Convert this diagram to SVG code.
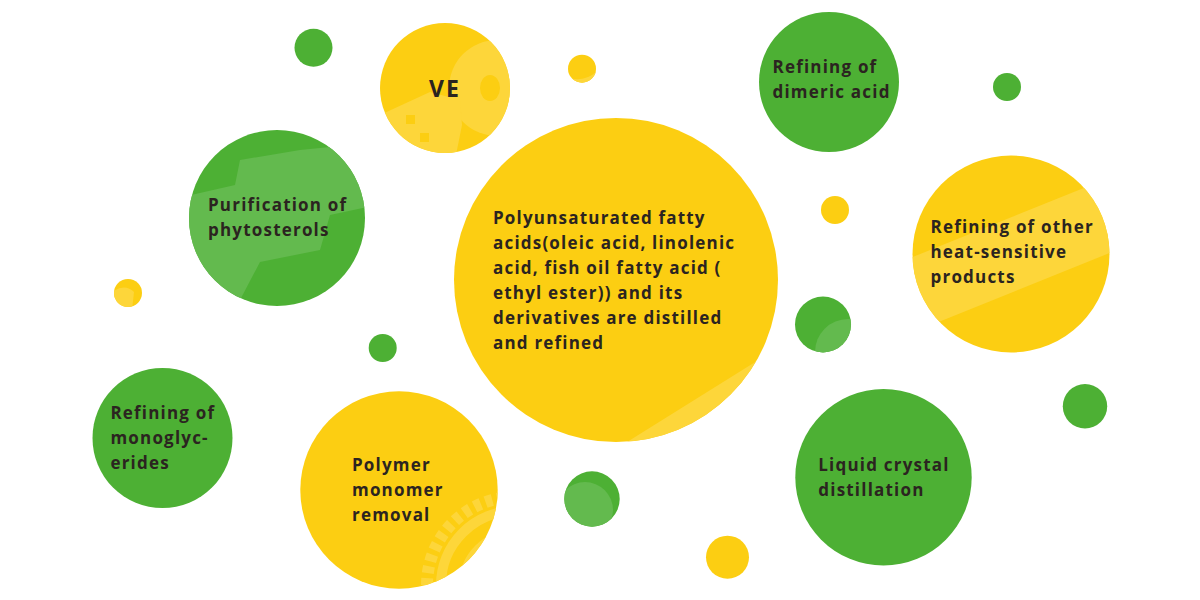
<svg xmlns="http://www.w3.org/2000/svg" width="1200" height="600" viewBox="0 0 1200 600">
<style>
.g{fill:#4DB034}
.y{fill:#FCCE12}
.gl{fill:#63BA4E}
.yl{fill:#FDD63A}
.t{font-family:"Open Sans","Liberation Sans",sans-serif;font-weight:700;font-size:17px;fill:#2B2420;letter-spacing:1.2px}
.ve{font-family:"Open Sans","Liberation Sans",sans-serif;font-weight:700;font-size:23px;fill:#2B2420;letter-spacing:2px}
</style>
<defs>
<clipPath id="cVE"><circle cx="445" cy="88" r="65"/></clipPath>
<clipPath id="cPhy"><circle cx="277" cy="218" r="88"/></clipPath>
<clipPath id="cBig"><circle cx="616" cy="280" r="162"/></clipPath>
<clipPath id="cHeat"><circle cx="1011" cy="254" r="98.5"/></clipPath>
<clipPath id="cPoly"><circle cx="399" cy="490" r="98.7"/></clipPath>
<clipPath id="cG1"><circle cx="823" cy="324.5" r="28"/></clipPath>
<clipPath id="cG2"><circle cx="592" cy="499" r="27.7"/></clipPath>
<clipPath id="cY1"><circle cx="128" cy="293" r="14"/></clipPath>
<clipPath id="cY2"><circle cx="582" cy="68.7" r="14"/></clipPath>
</defs>

<g id="dots">
<circle class="g" cx="313.5" cy="47.8" r="19"/>
<circle class="y" cx="582" cy="68.7" r="14"/>
<path class="yl" d="M568,78 Q585,82 596,72 L596,90 L568,90 Z" clip-path="url(#cY2)"/>
<circle class="g" cx="1007" cy="87" r="14"/>
<circle class="y" cx="835" cy="210" r="14"/>
<circle class="y" cx="128" cy="293" r="14"/>
<path class="yl" d="M112,292 Q125,283 134,292 L132,310 L112,310 Z" clip-path="url(#cY1)"/>
<circle class="g" cx="382.7" cy="348" r="14"/>
<circle class="g" cx="823" cy="324.5" r="28"/>
<circle class="gl" cx="848" cy="352" r="33" clip-path="url(#cG1)"/>
<circle class="g" cx="592" cy="499" r="27.7"/>
<circle class="gl" cx="585" cy="510" r="28" clip-path="url(#cG2)"/>
<circle class="g" cx="1085" cy="406.3" r="22.2"/>
<circle class="y" cx="727.5" cy="557.2" r="21.5"/>
</g>

<g id="node-ve">
<circle class="y" cx="445" cy="88" r="65"/>
<g clip-path="url(#cVE)">
<circle class="yl" cx="497" cy="88" r="48"/>
<ellipse class="y" cx="490" cy="88" rx="10" ry="13"/>
<path class="yl" d="M380,115 L430,92 L460,100 L462,125 L455,160 L380,160 Z"/>
<rect class="y" x="406" y="115" width="9" height="9"/>
<rect class="y" x="420" y="133" width="9" height="9"/>
</g>
<text class="ve" x="429" y="96.5">VE</text>
</g>

<g id="node-phytosterols">
<circle class="g" cx="277" cy="218" r="88"/>
<g clip-path="url(#cPhy)">
<path class="gl" d="M170,200 L235,185 L240,160 L300,150 L400,140 L400,200 L330,215 L320,250 L260,262 L240,300 L170,310 Z"/>
</g>
<text class="t"><tspan x="208" y="210.5">Purification of</tspan><tspan x="208" y="236">phytosterols</tspan></text>
</g>

<g id="node-fatty-acids">
<circle class="y" cx="616" cy="280" r="162"/>
<g clip-path="url(#cBig)">
<rect class="yl" x="600" y="400" width="220" height="40" transform="rotate(-32 700 420)"/>
</g>
<text class="t"><tspan x="493" y="224">Polyunsaturated fatty</tspan><tspan x="493" y="249">acids(oleic acid, linolenic</tspan><tspan x="493" y="274">acid, fish oil fatty acid (</tspan><tspan x="493" y="299">ethyl ester)) and its</tspan><tspan x="493" y="324">derivatives are distilled</tspan><tspan x="493" y="349">and refined</tspan></text>
</g>

<g id="node-dimeric">
<circle class="g" cx="829" cy="82" r="70"/>
<text class="t"><tspan x="772.5" y="73.3">Refining of</tspan><tspan x="772.5" y="98.3">dimeric acid</tspan></text>
</g>

<g id="node-heat">
<circle class="y" cx="1011" cy="254" r="98.5"/>
<g clip-path="url(#cHeat)">
<rect class="yl" x="905" y="220" width="215" height="70" transform="rotate(-22 1011 254)"/>
</g>
<text class="t"><tspan x="930.5" y="232.7">Refining of other</tspan><tspan x="930.5" y="258.3">heat-sensitive</tspan><tspan x="930.5" y="283.3">products</tspan></text>
</g>

<g id="node-monoglycerides">
<circle class="g" cx="162.5" cy="438" r="70"/>
<text class="t"><tspan x="110.4" y="419">Refining of</tspan><tspan x="110.4" y="444">monoglyc-</tspan><tspan x="110.4" y="469">erides</tspan></text>
</g>

<g id="node-polymer">
<circle class="y" cx="399" cy="490" r="98.7"/>
<g clip-path="url(#cPoly)">
<circle cx="515" cy="585" r="88" fill="none" stroke="#FDD63A" stroke-width="12" stroke-dasharray="7 5"/>
<circle cx="515" cy="585" r="74" fill="none" stroke="#FDD63A" stroke-width="10"/>
<circle cx="515" cy="585" r="52" fill="none" stroke="#FDD63A" stroke-width="8"/>
</g>
<text class="t"><tspan x="352" y="470.7">Polymer</tspan><tspan x="352" y="495.7">monomer</tspan><tspan x="352" y="520.7">removal</tspan></text>
</g>

<g id="node-liquid-crystal">
<circle class="g" cx="883.5" cy="477.3" r="88.2"/>
<text class="t"><tspan x="818.3" y="471">Liquid crystal</tspan><tspan x="818.3" y="496">distillation</tspan></text>
</g>

<g id="connectors"></g>
</svg>
